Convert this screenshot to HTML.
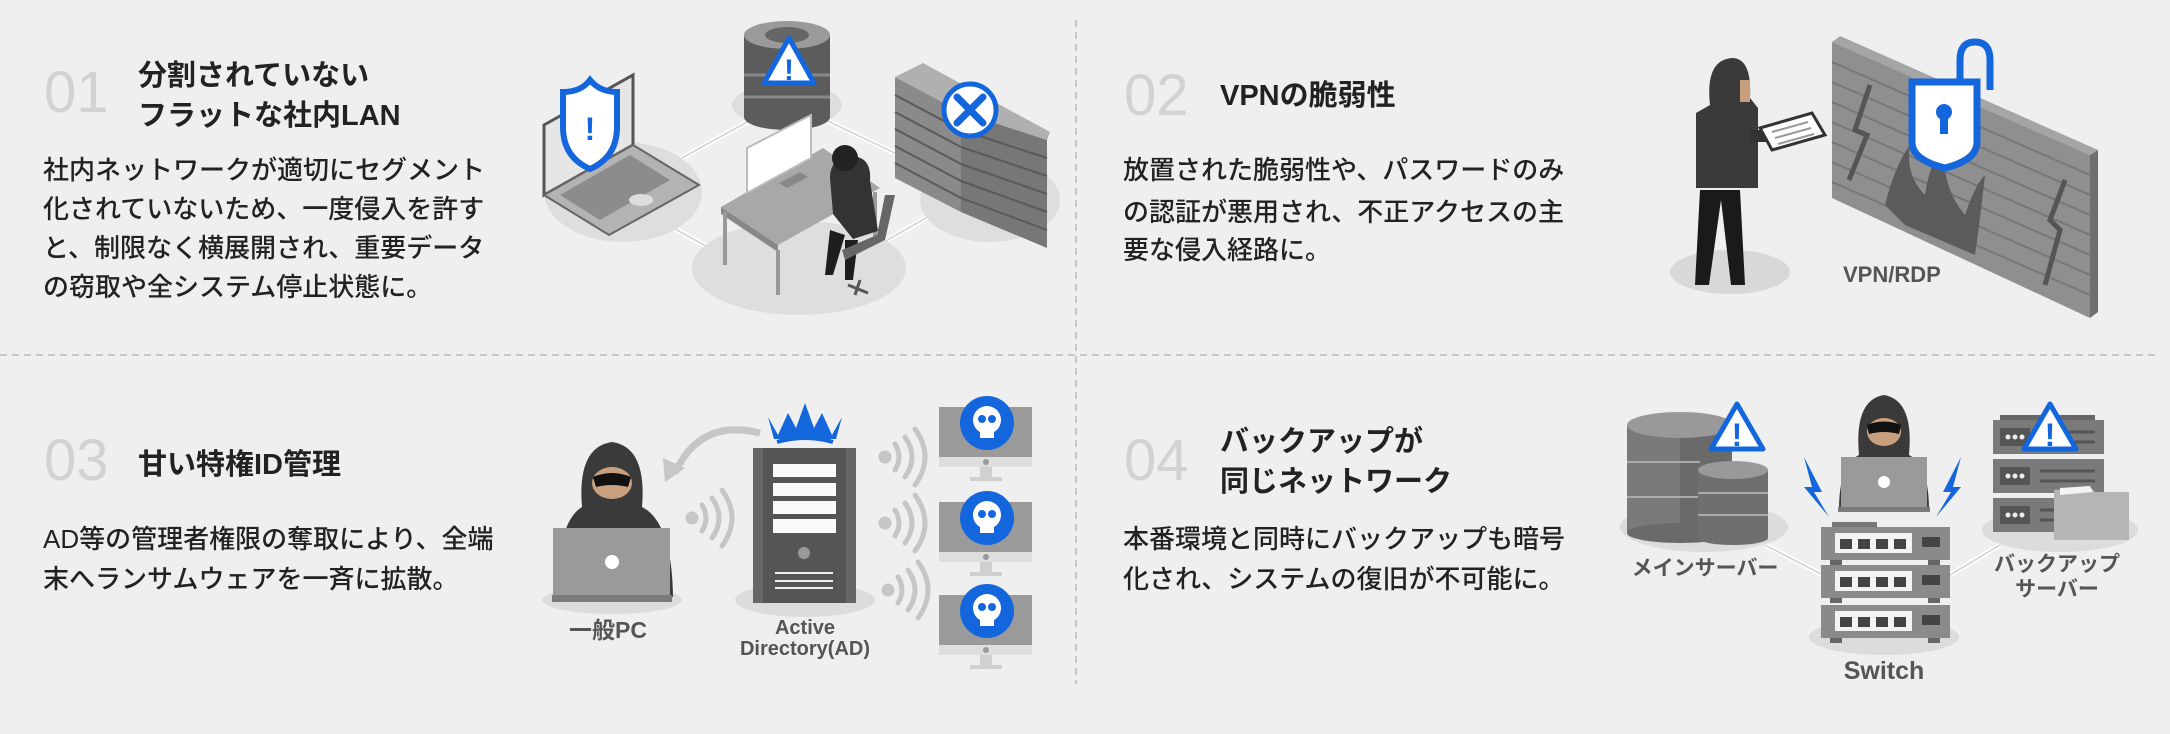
<!DOCTYPE html>
<html><head><meta charset="utf-8"><style>
html,body{margin:0;padding:0;background:#efefef;}
svg{display:block;}
.t{font-family:"Liberation Sans","Noto Sans CJK JP",sans-serif;font-weight:700;fill:#222;}
.b{font-family:"Liberation Sans","Noto Sans CJK JP",sans-serif;font-weight:500;fill:#222;font-size:26px;}
.n{font-family:"Liberation Sans",sans-serif;fill:#d2d2d2;font-size:58px;}
.l{font-family:"Liberation Sans","Noto Sans CJK JP",sans-serif;fill:#555;font-weight:700;}
</style></head><body>
<svg width="2170" height="734" viewBox="0 0 2170 734" xmlns="http://www.w3.org/2000/svg">
<rect width="2170" height="734" fill="#efefef"/>
<line x1="0" y1="355" x2="2160" y2="355" stroke="#c8c8c8" stroke-width="2" stroke-dasharray="7 5"/>
<line x1="1076" y1="20" x2="1076" y2="684" stroke="#c8c8c8" stroke-width="2" stroke-dasharray="7 5"/>

<!-- Q1 text -->
<text class="n" x="44" y="112">01</text>
<text class="t" x="138" y="85" font-size="29">分割されていない</text>
<text class="t" x="138" y="125" font-size="29">フラットな社内LAN</text>
<text class="b" x="43" y="179">社内ネットワークが適切にセグメント</text>
<text class="b" x="43" y="218">化されていないため、一度侵入を許す</text>
<text class="b" x="43" y="257">と、制限なく横展開され、重要データ</text>
<text class="b" x="43" y="296">の窃取や全システム停止状態に。</text>

<!-- Q2 text -->
<text class="n" x="1124" y="115">02</text>
<text class="t" x="1220" y="105" font-size="29">VPNの脆弱性</text>
<text class="b" x="1123" y="179">放置された脆弱性や、パスワードのみ</text>
<text class="b" x="1123" y="221">の認証が悪用され、不正アクセスの主</text>
<text class="b" x="1123" y="259">要な侵入経路に。</text>

<!-- Q3 text -->
<text class="n" x="44" y="480">03</text>
<text class="t" x="138" y="474" font-size="29">甘い特権ID管理</text>
<text class="b" x="43" y="548">AD等の管理者権限の奪取により、全端</text>
<text class="b" x="43" y="588">末へランサムウェアを一斉に拡散。</text>

<!-- Q4 text -->
<text class="n" x="1124" y="480">04</text>
<text class="t" x="1220" y="451" font-size="29">バックアップが</text>
<text class="t" x="1220" y="491" font-size="29">同じネットワーク</text>
<text class="b" x="1123" y="548">本番環境と同時にバックアップも暗号</text>
<text class="b" x="1123" y="588">化され、システムの復旧が不可能に。</text>

<!-- ===== Q1 illustration ===== -->
<g stroke="#fff" stroke-width="5" fill="none"><line x1="660" y1="170" x2="760" y2="115"/><line x1="815" y1="115" x2="920" y2="165"/><line x1="650" y1="215" x2="740" y2="265"/><line x1="870" y1="250" x2="940" y2="210"/></g>
<g stroke="#cfcfcf" stroke-width="1.5" fill="none"><line x1="660" y1="170" x2="760" y2="115"/><line x1="815" y1="115" x2="920" y2="165"/><line x1="650" y1="215" x2="740" y2="265"/><line x1="870" y1="250" x2="940" y2="210"/></g>
<ellipse cx="623" cy="192" rx="79" ry="50" fill="#dedede"/>
<ellipse cx="787" cy="105" rx="55" ry="22" fill="#dedede"/>
<ellipse cx="990" cy="200" rx="70" ry="42" fill="#dedede"/>
<ellipse cx="799" cy="268" rx="107" ry="47" fill="#dedede"/>
<!-- laptop -->
<polygon points="544,125 633,75 633,145 544,195" fill="#e6e6e6" stroke="#555" stroke-width="3"/>
<polygon points="544,195 633,145 699,185 609,235" fill="#b3b3b3" stroke="#666" stroke-width="2"/>
<polygon points="560,195 630,155 670,180 600,220" fill="#8c8c8c"/>
<ellipse cx="641" cy="200" rx="12" ry="6" fill="#ddd"/>
<path d="M563,92 q18,0 27,-12 q10,12 27,12 v35 q0,30 -27,42 q-27,-12 -27,-42z" fill="#fff" stroke="#1466dc" stroke-width="6"/>
<text x="590" y="140" font-family="Liberation Sans" font-weight="700" font-size="32" fill="#1466dc" text-anchor="middle">!</text>
<!-- database -->
<rect x="744" y="35" width="86" height="82" fill="#5c5c5c"/>
<ellipse cx="787" cy="117" rx="43" ry="13" fill="#5c5c5c"/>
<line x1="744" y1="75" x2="830" y2="75" stroke="#888" stroke-width="3"/>
<line x1="744" y1="97" x2="830" y2="97" stroke="#888" stroke-width="3"/>
<ellipse cx="787" cy="35" rx="43" ry="14" fill="#9a9a9a"/>
<ellipse cx="787" cy="35" rx="22" ry="8" fill="#666"/>
<polygon points="789,38 764,83 814,83" fill="#fff" stroke="#1466dc" stroke-width="5" stroke-linejoin="round"/>
<text x="789" y="80" font-family="Liberation Sans" font-weight="700" font-size="30" fill="#1466dc" text-anchor="middle">!</text>
<!-- server rack -->
<polygon points="895,77 923,63 1050,132 1047,140 961,112" fill="#b0b0b0"/>
<polygon points="895,77 961,112 961,212 895,178" fill="#8a8a8a"/>
<polygon points="961,112 1047,140 1047,248 961,212" fill="#777"/>
<g stroke="#5a5a5a" stroke-width="2">
<line x1="895" y1="95" x2="961" y2="130"/><line x1="895" y1="112" x2="961" y2="147"/><line x1="895" y1="129" x2="961" y2="164"/><line x1="895" y1="146" x2="961" y2="181"/><line x1="895" y1="163" x2="961" y2="198"/>
<line x1="961" y1="130" x2="1047" y2="158"/><line x1="961" y1="147" x2="1047" y2="176"/><line x1="961" y1="164" x2="1047" y2="194"/><line x1="961" y1="181" x2="1047" y2="212"/><line x1="961" y1="198" x2="1047" y2="230"/></g>
<circle cx="970" cy="110" r="26" fill="#fff" stroke="#1466dc" stroke-width="5"/>
<path d="M957,97 L983,123 M983,97 L957,123" stroke="#1466dc" stroke-width="7" stroke-linecap="round"/>
<!-- desk & person -->
<polygon points="721,207 823,148 880,188 778,245" fill="#a8a8a8"/>
<polygon points="721,207 778,245 778,252 721,214" fill="#888"/>
<g stroke="#999" stroke-width="4"><line x1="725" y1="212" x2="725" y2="265"/><line x1="778" y1="250" x2="778" y2="295"/><line x1="875" y1="192" x2="875" y2="240"/></g>
<polygon points="747,148 811,115 811,158 747,193" fill="#fff" stroke="#bbb" stroke-width="2"/>
<polygon points="779,183 800,172 808,177 787,188" fill="#888"/>
<path d="M830,178 q0,-20 20,-22 q22,0 20,25 l8,50 l-25,8 l-20,-25z" fill="#333"/>
<circle cx="845" cy="158" r="13" fill="#222"/>
<path d="M830,230 l-5,45 l8,0 l12,-40z" fill="#1e1e1e"/>
<path d="M845,240 l0,40 l8,0 l5,-40z" fill="#1e1e1e"/>
<path d="M845,260 l40,-20 l10,-45 l-10,0 l-8,40 l-35,15z" fill="#666"/>
<path d="M848,285 l20,8 M860,280 l-5,15" stroke="#555" stroke-width="3"/>
<!-- ===== Q2 illustration ===== -->
<ellipse cx="1730" cy="272" rx="60" ry="22" fill="#d8d8d8"/>
<polygon points="1832,42 1840,36 2098,150 2090,155" fill="#a5a5a5"/>
<polygon points="2090,155 2098,150 2098,312 2090,318" fill="#6e6e6e"/>
<polygon points="1832,42 2090,155 2090,318 1832,198" fill="#8f8f8f"/>
<g stroke="#777" stroke-width="2">
<line x1="1832" y1="62" x2="2090" y2="175"/><line x1="1832" y1="82" x2="2090" y2="195"/><line x1="1832" y1="102" x2="2090" y2="215"/><line x1="1832" y1="122" x2="2090" y2="235"/><line x1="1832" y1="142" x2="2090" y2="255"/><line x1="1832" y1="162" x2="2090" y2="275"/><line x1="1832" y1="182" x2="2090" y2="295"/></g>
<path d="M1870,85 l-15,45 l12,5 l-18,45 M2065,180 l-15,40 l10,10 l-15,55" stroke="#555" stroke-width="5" fill="none"/>
<path d="M1885,205 q10,-40 25,-60 q-5,30 15,50 q5,-35 20,-50 q-5,40 20,70 q10,-30 20,-40 q-5,45 -10,80 l-70,-30z" fill="#5b5b5b"/>
<path d="M1960,82 v-22 q0,-18 15,-18 q15,0 15,18 v30" stroke="#1466dc" stroke-width="7" fill="none"/>
<path d="M1912,82 h65 v60 q0,18 -32,26 q-33,-8 -33,-26z" fill="#fff" stroke="#1466dc" stroke-width="7"/>
<circle cx="1944" cy="112" r="8" fill="#1466dc"/>
<rect x="1940" y="112" width="8" height="22" fill="#1466dc"/>
<text class="l" x="1843" y="282" font-size="22">VPN/RDP</text>
<!-- hacker -->
<path d="M1710,105 q-5,-45 22,-47 q20,0 18,40 l8,10 l0,80 l-62,0 l0,-75z" fill="#3a3a3a"/>
<path d="M1740,80 l10,0 l0,22 l-10,0z" fill="#c9a07d"/>
<path d="M1700,190 l-5,95 l14,0 l12,-85 l10,85 l14,0 l-5,-95z" fill="#1a1a1a"/>
<path d="M1750,130 l30,0 l0,12 l-30,0z" fill="#333"/>
<polygon points="1760,128 1812,113 1825,135 1772,150" fill="#fff" stroke="#333" stroke-width="3"/>
<g stroke="#999" stroke-width="2"><line x1="1772" y1="132" x2="1808" y2="122"/><line x1="1775" y1="138" x2="1811" y2="128"/><line x1="1778" y1="144" x2="1814" y2="134"/></g>
<!-- ===== Q3 illustration ===== -->
<ellipse cx="612" cy="600" rx="70" ry="14" fill="#dcdcdc"/>
<ellipse cx="805" cy="600" rx="70" ry="17" fill="#dcdcdc"/>
<path d="M557,597 q0,-75 25,-90 q-5,-60 30,-65 q35,5 30,65 q30,15 31,90z" fill="#3a3a3a"/>
<ellipse cx="612" cy="483" rx="20" ry="16" fill="#c9a07d"/>
<path d="M593,477 q19,-8 38,0 l-3,10 q-16,-4 -32,0z" fill="#111"/>
<rect x="553" y="528" width="117" height="67" fill="#9a9a9a"/>
<rect x="552" y="595" width="120" height="7" fill="#7a7a7a"/>
<circle cx="612" cy="562" r="7" fill="#fff"/>
<path d="M760,433 q-60,-15 -85,40" stroke="#c6c6c6" stroke-width="7" fill="none"/>
<polygon points="665,482 663,458 685,468" fill="#c6c6c6"/>
<g fill="none" stroke="#c6c6c6" stroke-width="5" stroke-linecap="round">
<circle cx="692" cy="518" r="4" fill="#c6c6c6"/>
<path d="M702,505 q8,13 0,26 M712,498 q14,20 0,40 M722,490 q20,28 0,56"/>
<circle cx="885" cy="457" r="4" fill="#c6c6c6"/><path d="M895,444 q8,13 0,26 M905,437 q14,20 0,40 M915,429 q20,28 0,56"/>
<circle cx="885" cy="523" r="4" fill="#c6c6c6"/><path d="M895,510 q8,13 0,26 M905,503 q14,20 0,40 M915,495 q20,28 0,56"/>
<circle cx="888" cy="590" r="4" fill="#c6c6c6"/><path d="M898,577 q8,13 0,26 M908,570 q14,20 0,40 M918,562 q20,28 0,56"/>
</g>
<rect x="753" y="448" width="103" height="155" fill="#666"/>
<rect x="763" y="448" width="83" height="155" fill="#555"/>
<g fill="#fafafa"><rect x="773" y="464" width="63" height="13"/><rect x="773" y="483" width="63" height="13"/><rect x="773" y="501" width="63" height="13"/><rect x="773" y="519" width="63" height="14"/></g>
<circle cx="804" cy="553" r="6" fill="#999"/>
<g stroke="#eee" stroke-width="2"><line x1="775" y1="573" x2="833" y2="573"/><line x1="775" y1="581" x2="833" y2="581"/><line x1="775" y1="588" x2="833" y2="588"/></g>
<path d="M768,417 l10,18 l10,-22 l8,15 l9,-25 l9,25 l8,-15 l10,22 l10,-18 l-6,22 l-62,0z" fill="#1466dc"/>
<path d="M777,442 q28,-8 56,0" stroke="#1466dc" stroke-width="4" fill="none"/>
<text class="l" x="608" y="638" font-size="23" text-anchor="middle">一般PC</text>
<text class="l" x="805" y="634" font-size="20" text-anchor="middle">Active</text>
<text class="l" x="805" y="655" font-size="20" text-anchor="middle">Directory(AD)</text>
<g id="mon">
<rect x="939" y="407" width="93" height="50" fill="#9a9a9a"/>
<rect x="939" y="457" width="93" height="10" fill="#dedede"/>
<circle cx="986" cy="462" r="3" fill="#999"/>
<rect x="980" y="467" width="12" height="10" fill="#d0d0d0"/>
<rect x="970" y="477" width="32" height="4" fill="#d0d0d0"/>
<circle cx="987" cy="423" r="27" fill="#1466dc"/>
<circle cx="987" cy="420" r="14" fill="#fff"/>
<rect x="980" y="430" width="14" height="8" fill="#fff"/>
<circle cx="982" cy="419" r="4" fill="#1466dc"/><circle cx="992" cy="419" r="4" fill="#1466dc"/>
</g>
<use href="#mon" y="95"/>
<use href="#mon" y="188"/>
<!-- ===== Q4 illustration ===== -->
<g stroke="#fff" stroke-width="5"><line x1="1765" y1="545" x2="1823" y2="575"/><line x1="1950" y1="575" x2="2000" y2="545"/></g>
<g stroke="#cfcfcf" stroke-width="1.5"><line x1="1765" y1="545" x2="1823" y2="575"/><line x1="1950" y1="575" x2="2000" y2="545"/></g>
<ellipse cx="1704" cy="527" rx="84" ry="25" fill="#dcdcdc"/>
<ellipse cx="1884" cy="637" rx="75" ry="18" fill="#dcdcdc"/>
<ellipse cx="2060" cy="530" rx="78" ry="22" fill="#dcdcdc"/>
<rect x="1627" y="425" width="105" height="108" fill="#7a7a7a"/>
<rect x="1680" y="425" width="52" height="108" fill="#6a6a6a"/>
<ellipse cx="1680" cy="425" rx="53" ry="13" fill="#999"/>
<ellipse cx="1680" cy="533" rx="53" ry="10" fill="#6a6a6a"/>
<g stroke="#aaa" stroke-width="2"><line x1="1627" y1="462" x2="1700" y2="462"/><line x1="1627" y1="497" x2="1700" y2="497"/></g>
<rect x="1698" y="470" width="70" height="68" fill="#6f6f6f"/>
<ellipse cx="1733" cy="470" rx="35" ry="9" fill="#999"/>
<ellipse cx="1733" cy="538" rx="35" ry="7" fill="#6f6f6f"/>
<g stroke="#aaa" stroke-width="2"><line x1="1698" y1="493" x2="1768" y2="493"/><line x1="1698" y1="515" x2="1768" y2="515"/></g>
<polygon points="1737,404 1711,449 1763,449" fill="#fff" stroke="#1466dc" stroke-width="5" stroke-linejoin="round"/>
<text x="1737" y="446" font-family="Liberation Sans" font-weight="700" font-size="32" fill="#1466dc" text-anchor="middle">!</text>
<path d="M1839,510 q0,-45 20,-55 q-5,-55 25,-60 q30,5 25,60 q20,10 20,55z" fill="#3a3a3a"/>
<ellipse cx="1884" cy="432" rx="17" ry="14" fill="#c9a07d"/>
<path d="M1867,425 q17,-7 34,0 l-2,9 q-15,-4 -30,0z" fill="#111"/>
<rect x="1841" y="457" width="86" height="50" fill="#9a9a9a"/>
<rect x="1838" y="507" width="92" height="5" fill="#7a7a7a"/>
<circle cx="1884" cy="482" r="6" fill="#fff"/>
<path d="M1804,457 l18,35 l-8,0 l15,25 l-25,-30 l8,0z" fill="#1466dc"/>
<path d="M1961,457 l-18,35 l8,0 l-15,25 l25,-30 l-8,0z" fill="#1466dc"/>
<g id="sw">
<rect x="1821" y="527" width="129" height="33" fill="#8a8a8a"/>
<rect x="1835" y="533" width="77" height="20" fill="#f3f3f3"/>
<g fill="#444"><rect x="1840" y="539" width="12" height="10"/><rect x="1858" y="539" width="12" height="10"/><rect x="1876" y="539" width="12" height="10"/><rect x="1894" y="539" width="12" height="10"/></g>
<rect x="1922" y="537" width="18" height="10" fill="#444"/>
<rect x="1830" y="560" width="12" height="5" fill="#666"/><rect x="1928" y="560" width="12" height="5" fill="#666"/>
</g>
<use href="#sw" y="38"/>
<use href="#sw" y="78"/>
<rect x="1832" y="522" width="45" height="5" fill="#777"/>
<g id="bs">
<rect x="1993" y="420" width="111" height="34" fill="#7a7a7a"/>
<rect x="2000" y="428" width="30" height="18" fill="#555"/>
<g fill="#eee"><circle cx="2008" cy="437" r="2.5"/><circle cx="2015" cy="437" r="2.5"/><circle cx="2022" cy="437" r="2.5"/></g>
<line x1="2040" y1="432" x2="2095" y2="432" stroke="#555" stroke-width="3"/>
<line x1="2040" y1="442" x2="2095" y2="442" stroke="#555" stroke-width="3"/>
</g>
<use href="#bs" y="39"/>
<use href="#bs" y="78"/>
<rect x="2000" y="415" width="95" height="5" fill="#666"/>
<polygon points="2054,490 2090,487 2095,492 2129,492 2129,540 2054,540" fill="#b5b5b5"/>
<polygon points="2060,488 2090,486 2093,492 2060,495" fill="#f3f3f3"/>
<polygon points="2050,404 2024,449 2076,449" fill="#fff" stroke="#1466dc" stroke-width="5" stroke-linejoin="round"/>
<text x="2050" y="446" font-family="Liberation Sans" font-weight="700" font-size="32" fill="#1466dc" text-anchor="middle">!</text>
<text class="l" x="1705" y="575" font-size="21" font-weight="500" text-anchor="middle" fill="#444">メインサーバー</text>
<text class="l" x="2057" y="571" font-size="21" font-weight="500" text-anchor="middle" fill="#444">バックアップ</text>
<text class="l" x="2057" y="596" font-size="21" font-weight="500" text-anchor="middle" fill="#444">サーバー</text>
<text class="l" x="1884" y="679" font-size="25" text-anchor="middle" fill="#444">Switch</text>
</svg>
</body></html>
